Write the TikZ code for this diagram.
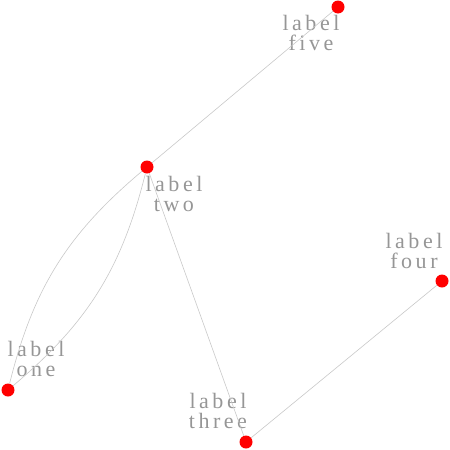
\documentclass[tikz,border=0pt]{standalone}
\usepackage{fontspec}
\newfontfamily\lblfont[LetterSpace=16]{Liberation Serif}
\definecolor{lblgray}{RGB}{150,150,150}
\definecolor{edgegray}{RGB}{200,200,200}
\begin{document}
\begin{tikzpicture}[x=1pt,y=-1pt,
  dot/.style={circle,fill=red,inner sep=0pt,minimum size=13pt},
  lbl/.style={text=lblgray,align=center,inner sep=0pt,
    font=\lblfont\fontsize{22}{20}\selectfont},
  edge/.style={draw=edgegray,line width=0.6pt}]
  \useasboundingbox (0,0) rectangle (450,450);
  \node[dot] (five)  at (338,7)   {};
  \node[dot] (two)   at (147,167) {};
  \node[dot] (four)  at (442,281) {};
  \node[dot] (one)   at (8,390)   {};
  \node[dot] (three) at (246,442) {};
  \node[lbl,anchor=base] (lfive)  at (311,50)  {label\\five};
  \node[lbl,anchor=base] (ltwo)   at (174,211) {label\\two};
  \node[lbl,anchor=base] (lfour)  at (414,268) {label\\four};
  \node[lbl,anchor=base] (lone)   at (36,376)  {label\\one};
  \node[lbl,anchor=base] (lthree) at (218,428) {label\\three};
  \draw[edge] (five) -- (two);
  \draw[edge] (two) to[bend left=18] (one);
  \draw[edge] (two) to[bend right=18] (one);
  \draw[edge] (two) -- (three);
  \draw[edge] (three) -- (four);
\end{tikzpicture}
\end{document}
